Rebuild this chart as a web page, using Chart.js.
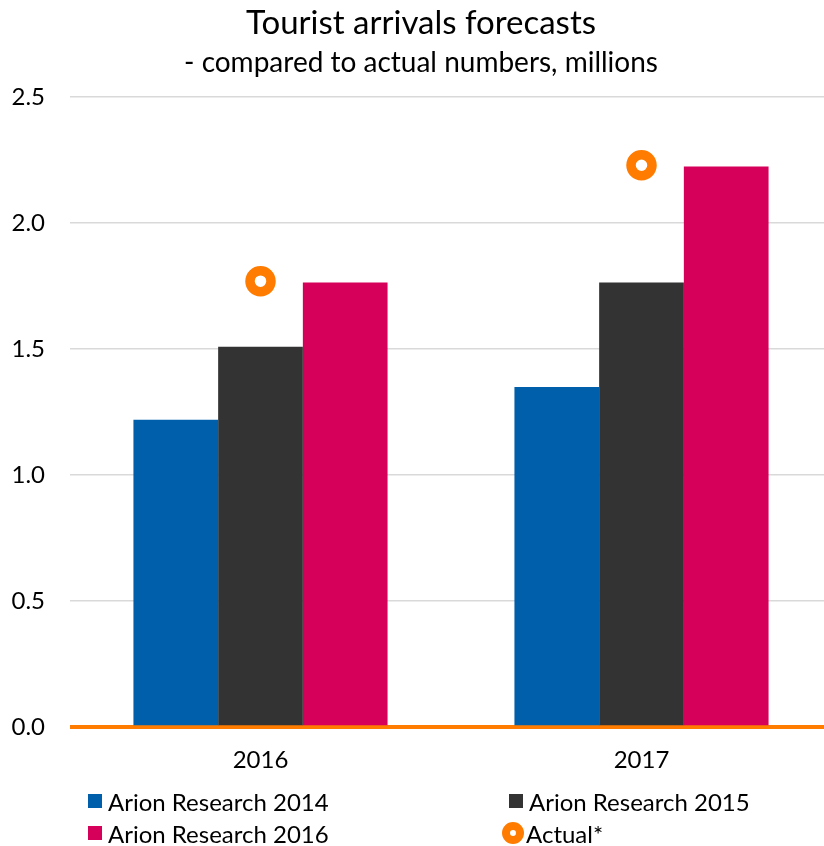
<!DOCTYPE html>
<html>
<head>
<meta charset="utf-8">
<script src="https://cdn.jsdelivr.net/npm/chart.js@4/dist/chart.umd.min.js"></script>
<style>
  html, body { margin: 0; padding: 0; background: #fff; overflow: hidden; }
  #wrap { position: relative; width: 832px; height: 846px; }
  #legend { position: absolute; left: 0; top: 786px; width: 832px; font-family: Lato, sans-serif; font-size: 24px; color: #000; }
  .item { position: absolute; display: flex; align-items: center; height: 30px; white-space: nowrap; }
  .sq { width: 14px; height: 14px; margin-right: 6px; }
  .ring { width: 6px; height: 6px; border-radius: 50%; border: 8px solid #ff7c00; background: #fff; margin-left: -7px; margin-right: 2px; box-sizing: content-box; }
</style>
</head>
<body>
<div id="wrap">
  <canvas id="chart" width="832" height="846"></canvas>
  <div id="legend"></div>
</div>
<script>
// Tourist arrivals, millions: forecasts by edition vs. the actual count
const years = ['2016', '2017'];
const arion2014 = [1.22, 1.35];
const arion2015 = [1.51, 1.765];
const arion2016 = [1.765, 2.225];
const actual = [1.77, 2.23];
const yTicks = [0, 0.5, 1.0, 1.5, 2.0, 2.5];

const BLUE = '#005fab', DARK = '#333333', PINK = '#d6005a', ORANGE = '#ff7c00';
const FONT = 'Lato, sans-serif';

const chart = new Chart(document.getElementById('chart'), {
  type: 'bar',
  data: {
    labels: years,
    datasets: [
      { label: 'Arion Research 2014', data: arion2014, backgroundColor: BLUE, order: 1 },
      { label: 'Arion Research 2015', data: arion2015, backgroundColor: DARK, order: 1 },
      { label: 'Arion Research 2016', data: arion2016, backgroundColor: PINK, order: 1 },
      { label: 'Actual*', data: actual, type: 'line', showLine: false, order: 0,
        borderColor: ORANGE, pointBorderColor: ORANGE, pointBackgroundColor: '#fff',
        pointRadius: 10.5, pointBorderWidth: 9.5, pointHoverRadius: 10.5 }
    ]
  },
  options: {
    responsive: false,
    animation: false,
    layout: { autoPadding: false, padding: { left: 10, right: 0, top: 0, bottom: 60 } },
    datasets: { bar: { categoryPercentage: 0.667, barPercentage: 1.0 } },
    plugins: {
      legend: { display: false },
      tooltip: { enabled: false },
      title: { display: true, text: 'Tourist arrivals forecasts', color: '#000',
        font: { family: FONT, size: 33, weight: 'normal' }, padding: { top: 4, bottom: 3 } },
      subtitle: { display: true, text: '- compared to actual numbers, millions', color: '#000',
        font: { family: FONT, size: 28, weight: 'normal' }, padding: { top: 0, bottom: 17 } }
    },
    scales: {
      x: {
        grid: { display: false },
        border: { display: false },
        ticks: { color: '#000', padding: 11, font: { family: FONT, size: 24 } }
      },
      y: {
        min: 0, max: 2.5,
        afterBuildTicks: (axis) => { axis.ticks = yTicks.map(v => ({ value: v })); },
        afterFit: (axis) => { axis.width = 60; },
        border: { display: false },
        grid: {
          drawTicks: false,
          color: (c) => c.tick && c.tick.value === 0 ? ORANGE : '#d9d9d9',
          lineWidth: (c) => c.tick && c.tick.value === 0 ? 4 : 1.5
        },
        ticks: { color: '#000', padding: 25, font: { family: FONT, size: 24 },
          callback: (v) => Number(v).toFixed(1) }
      }
    }
  }
});

// two-column legend under the axis, built from the chart's datasets
const slots = [[88, 0], [509, 0], [88, 32], [509, 32]];
const legend = document.getElementById('legend');
chart.data.datasets.forEach((ds, i) => {
  const el = document.createElement('div');
  el.className = 'item';
  el.style.left = slots[i][0] + 'px';
  el.style.top = slots[i][1] + 'px';
  const mark = document.createElement('span');
  if (ds.type === 'line') {
    mark.className = 'ring';
  } else {
    mark.className = 'sq';
    mark.style.background = ds.backgroundColor;
  }
  const txt = document.createElement('span');
  txt.textContent = ds.label;
  el.appendChild(mark);
  el.appendChild(txt);
  legend.appendChild(el);
});
</script>
</body>
</html>
